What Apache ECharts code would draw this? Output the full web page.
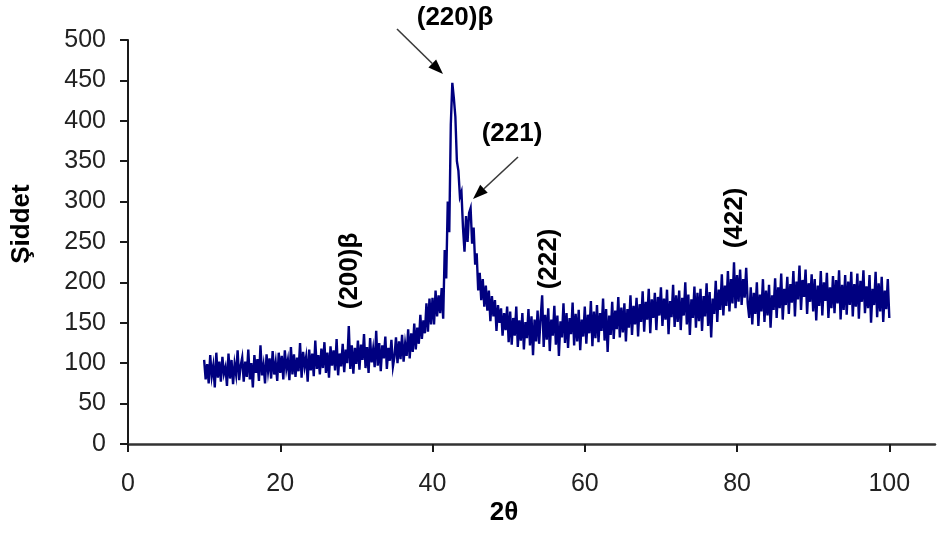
<!DOCTYPE html>
<html>
<head>
<meta charset="utf-8">
<script src="https://cdn.jsdelivr.net/npm/echarts@6/dist/echarts.min.js"></script>
<style>
  html, body { margin: 0; padding: 0; background: #fff; }
  #chart { width: 937px; height: 533px; }
</style>
</head>
<body>
<div id="chart"></div>
<script>
// XRD scan: intensity sampled every 0.2° of 2θ, from 10° to 100°
const TWO_THETA_START = 10;
const TWO_THETA_STEP = 0.2;

const intensity = [
  // 10.0 - 14.8
  104, 80, 99, 75, 110, 84, 97, 70, 113, 82, 102, 77, 108, 87, 95, 72, 112, 81, 104, 74, 99, 86, 116, 79, 97,
  // 15.0 - 19.8
  107, 77, 102, 83, 117, 80, 100, 70, 110, 88, 105, 78, 122, 85, 98, 75, 111, 90, 106, 81, 115, 86, 101, 78, 113,
  // 20.0 - 24.8
  88, 109, 80, 116, 93, 104, 79, 120, 86, 111, 83, 107, 90, 125, 82, 114, 96, 108, 77, 117, 91, 112, 84, 128, 93,
  // 25.0 - 29.8
  110, 86, 118, 94, 126, 88, 113, 82, 121, 97, 116, 91, 130, 85, 112, 96, 124, 89, 117, 100, 146, 93, 122, 87, 119,
  // 30.0 - 34.8
  99, 128, 92, 123, 104, 136, 94, 120, 88, 131, 101, 117, 95, 140, 97, 125, 90, 122, 106, 133, 93, 119, 103, 129, 96,
  // 35.0 - 39.8
  108, 132, 100, 127, 105, 135, 102, 124, 109, 142, 106, 137, 114, 149, 117, 144, 124, 160, 130, 153, 137, 174, 139, 180, 148,
  // 40.0 - 44.8  (220)β and (221)
  181, 148, 190, 158, 184, 162, 193, 155, 240, 205, 300, 262, 395, 447, 428, 405, 350, 338, 306, 312, 268, 238, 282, 250, 286,
  // 45.0 - 49.8
  292, 248, 268, 222, 236, 190, 212, 178, 204, 170, 196, 165, 190, 152, 183, 158, 178, 140, 172, 150, 168, 134, 162, 141, 170,
  // 50.0 - 54.8
  126, 164, 123, 156, 134, 170, 120, 153, 128, 162, 117, 151, 131, 167, 122, 158, 110, 154, 127, 165, 124, 156, 184, 120, 160,
  // 55.0 - 59.8
  129, 168, 115, 154, 134, 171, 123, 159, 109, 152, 132, 174, 125, 162, 119, 156, 136, 175, 122, 161, 127, 166, 116, 154, 133,
  // 60.0 - 64.8
  170, 124, 160, 137, 177, 121, 164, 131, 172, 126, 162, 140, 180, 128, 167, 114, 159, 135, 176, 130, 165, 142, 182, 132, 169,
  // 65.0 - 69.8
  138, 174, 127, 167, 144, 184, 135, 171, 148, 181, 133, 173, 151, 189, 139, 176, 154, 192, 137, 179, 156, 187, 141, 182, 159,
  // 70.0 - 74.8
  194, 146, 180, 154, 191, 136, 177, 157, 197, 145, 184, 151, 190, 141, 181, 159, 200, 148, 185, 135, 179, 156, 195, 144, 187,
  // 75.0 - 79.8
  152, 192, 140, 183, 158, 199, 146, 188, 132, 180, 161, 202, 151, 191, 166, 210, 159, 196, 171, 214, 164, 204, 174, 225, 168,
  // 80.0 - 84.8
  209, 176, 216, 172, 204, 181, 218, 174, 156, 194, 148, 187, 161, 200, 146, 185, 164, 204, 151, 190, 159, 197, 144, 184, 166,
  // 85.0 - 89.8
  205, 156, 194, 168, 211, 154, 192, 172, 207, 161, 198, 175, 214, 158, 201, 179, 221, 166, 203, 182, 216, 161, 199, 176, 210,
  // 90.0 - 94.8
  164, 204, 153, 196, 171, 214, 159, 200, 177, 212, 156, 194, 168, 208, 162, 203, 174, 215, 154, 197, 166, 209, 160, 201, 172,
  // 95.0 - 100.0
  213, 158, 198, 170, 211, 155, 202, 176, 215, 162, 195, 168, 209, 150, 192, 172, 213, 157, 199, 164, 207, 151, 190, 167, 204, 156
];

const xTickValues = [0, 20, 40, 60, 80, 100];
const xAxisTitle = '2θ';
const yAxisTitle = 'Şiddet';
const reflexLabels = ['(220)β', '(221)', '(200)β', '(222)', '(422)'];

const FONT = "'Liberation Sans', Arial, sans-serif";
const AXIS_COLOR = '#1a1a1a';

const seriesData = intensity.map((v, i) => [
  +(TWO_THETA_START + i * TWO_THETA_STEP).toFixed(2), v
]);

// arrow = shaft line + filled triangular head
function arrow(from, to) {
  const dx = to[0] - from[0], dy = to[1] - from[1];
  const len = Math.hypot(dx, dy), ux = dx / len, uy = dy / len;
  const headLen = 15, headHalf = 5.5;
  const bx = to[0] - ux * headLen, by = to[1] - uy * headLen;
  return [
    { type: 'line', shape: { x1: from[0], y1: from[1], x2: bx, y2: by },
      style: { stroke: '#3a3a3a', lineWidth: 1.6 } },
    { type: 'polygon',
      shape: { points: [to, [bx - uy * headHalf, by + ux * headHalf], [bx + uy * headHalf, by - ux * headHalf]] },
      style: { fill: '#000' } }
  ];
}

function label(text, x, y, rotated) {
  return {
    type: 'text', x: x, y: y, rotation: rotated ? Math.PI / 2 : 0,
    style: { text: text, font: "bold 26px " + FONT, fill: '#000',
             textAlign: 'center', textVerticalAlign: 'middle' }
  };
}

const chart = echarts.init(document.getElementById('chart'), null, { renderer: 'canvas' });
chart.setOption({
  animation: false,
  backgroundColor: '#fff',
  grid: { left: 128, right: 2, top: 40, bottom: 89, containLabel: false },
  xAxis: {
    type: 'value', min: 0, max: 106, interval: 20,
    splitLine: { show: false },
    axisLine: { show: true, onZero: false, lineStyle: { color: '#333', width: 2.5 } },
    axisTick: { show: true, inside: false, length: 8, customValues: xTickValues,
                lineStyle: { color: AXIS_COLOR, width: 2 } },
    axisLabel: { customValues: xTickValues, margin: 28, color: '#222',
                 fontFamily: FONT, fontSize: 25,
                 formatter: v => (xTickValues.indexOf(v) >= 0 ? String(v) : '') }
  },
  yAxis: {
    type: 'value', min: 0, max: 500, interval: 50,
    splitLine: { show: false },
    axisLine: { show: true, lineStyle: { color: AXIS_COLOR, width: 2 } },
    axisTick: { show: true, inside: false, length: 8, lineStyle: { color: AXIS_COLOR, width: 2 } },
    axisLabel: { margin: 22, color: '#222', fontFamily: FONT, fontSize: 25 }
  },
  series: [{
    type: 'line',
    data: seriesData,
    showSymbol: false,
    sampling: null,
    lineStyle: { color: '#000080', width: 2.4, join: 'miter' },
    clip: true
  }],
  graphic: [
    label(yAxisTitle, 22, 224, true),
    label(xAxisTitle, 504, 513, false),
    label(reflexLabels[0], 455, 18, false),
    label(reflexLabels[1], 512, 134, false),
    label(reflexLabels[2], 350, 271, true),
    label(reflexLabels[3], 549, 259, true),
    label(reflexLabels[4], 735, 218, true),
    ...arrow([397, 29], [443, 74]),
    ...arrow([518, 157], [473, 199])
  ]
});
</script>
</body>
</html>
